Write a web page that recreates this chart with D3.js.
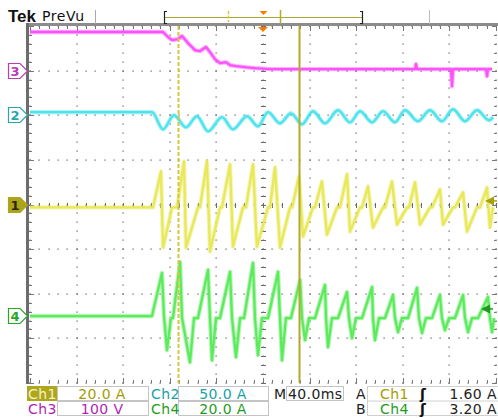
<!DOCTYPE html>
<html><head><meta charset="utf-8">
<script src="https://cdn.jsdelivr.net/npm/d3@7"></script>
<style>body{margin:0;background:#fff}svg{display:block}</style>
</head><body><svg id="c" width="498" height="418"></svg>
<script>
// ---------- DATA (time in ms, 40 ms/div, trigger at 0) ----------
const channelNames = ["Ch1","Ch2","Ch3","Ch4"];
const perDiv = [20, 50, 100, 20];          // A, A, V, A per division
const offsetDiv = [0, 2, 3, -2.5];         // ground marker position (div)
const perDivLabels = ["20.0 A","50.0 A","100 V","20.0 A"];
const timebaseLabel = "40.0ms";
const triggerLabels = [["A","Ch1","1.60 A"],["B","Ch4","3.20 A"]];
const triggerLevels = [1.6, 3.2];          // Ch1, Ch4 (A)
const cursorTimes = [-73, 31];             // ms

const ch3Time = [-200,-85.8,-81.5,-78.1,-73.0,-69.5,-64.4,-58.4,-54.1,-48.9,-45.5,-41.2,-36.9,-31.8,-28.3,-23.2,-15.5,-6.9,6.0,130.5,131.3,132.2,161.4,162.2,163.1,191.4,192.3,193.1,196.6];
const ch3Volts = [86.5,86.5,75.3,68.5,70.8,77.5,61.8,46.0,43.8,52.8,41.5,25.8,16.8,19.1,12.3,10.1,7.8,5.6,3.4,3.4,14.6,3.4,3.4,-34.9,3.4,3.4,-12.4,3.4,3.4];

const ch2Time = [-200,-95.3,-85.8,-76.4,-66.1,-56.7,-47.2,-35.2,-25.8,-13.7,-4.3,4.3,14.6,24.0,33.5,42.9,53.2,64.4,74.7,83.3,93.6,103.0,113.3,121.9,133.0,143.3,153.6,163.1,173.4,183.7,194.0,197.4];
const ch2Amps = [3.4,3.4,-15.7,0.0,-13.5,-1.1,-18.0,-2.2,-15.7,-1.1,-12.4,3.4,-9.0,2.2,-10.1,4.5,-9.0,5.6,-7.9,4.5,-7.9,4.5,-7.9,5.6,-6.7,5.6,-6.7,6.7,-6.7,5.6,-5.6,-2.2];

const ch1Time = [-200,-94.4,
  -87.6,-85.8,-78.1,
  -73.8,-67.8,-66.1,-55.8,
  -54.1,-48.1,-45.5,-36.9,
  -35.2,-28.3,-25.8,-17.2,
  -14.6,-8.6,-5.2,4.3,
  6.0,10.3,14.6,23.2,
  24.9,30.9,34.3,42.9,
  44.6,50.6,54.9,63.5,
  66.1,72.1,74.7,83.3,
  85.0,90.1,94.4,103.0,
  104.7,110.7,115.0,123.6,
  125.3,130.5,134.8,143.3,
  145.1,151.9,154.5,163.1,
  164.8,171.7,175.1,183.7,
  186.3,192.3,194.8,197.4];
const ch1Amps = [-1.3,-1.3,
  14.8,-19.3,-1.3,
  -1.3,19.3,-19.3,-1.3,
  -1.3,19.3,-21.1,-1.3,
  -1.3,18.0,-18.9,-1.3,
  -1.3,18.0,-18.9,-1.3,
  -1.3,16.6,-19.3,-1.3,
  -1.3,12.6,-14.4,-1.3,
  -1.3,10.3,-13.5,-1.3,
  -1.3,13.5,-12.1,-1.3,
  -1.3,8.1,-10.3,-1.3,
  -1.3,10.3,-9.0,-1.3,
  -1.3,9.9,-9.0,-1.3,
  -1.3,6.7,-9.0,-1.3,
  -1.3,5.4,-12.1,-1.3,
  -1.3,7.6,-10.3,-1.3];

const ch4Time = [-200,
  -95.3,-86.7,-85.0,-82.4,-79.0,
  -77.3,-71.2,-69.5,-62.7,-59.2,
  -55.8,-47.2,-45.5,-43.8,-40.3,
  -36.9,-28.3,-26.6,-23.2,-19.7,
  -16.3,-8.6,-6.9,-4.3,-0.9,
  4.3,12.9,14.6,16.3,19.7,
  24.0,31.8,33.5,36.1,39.5,
  44.6,53.2,54.1,55.8,59.2,
  64.4,72.1,73.8,76.4,79.8,
  85.0,93.6,94.4,96.1,99.6,
  104.7,111.6,113.3,115.9,119.3,
  124.5,132.2,133.9,136.5,139.9,
  145.1,151.9,153.6,156.2,159.7,
  164.8,171.7,173.4,176.0,179.4,
  184.6,193.1,194.8,196.6,198.3];
const ch4Amps = [0,
  0,19.3,0,-15.3,-0.9,
  -0.9,24.2,-0.9,-20.7,-0.9,
  -0.9,20.7,-0.9,-19.8,-0.9,
  -0.9,19.8,-0.9,-18.4,-0.9,
  -0.9,23.8,-0.9,-17.5,-0.9,
  -0.9,19.8,-0.9,-19.8,-0.9,
  -0.9,16.2,-0.9,-10.8,-0.9,
  -0.9,13.9,-0.9,-13.9,-0.9,
  -0.9,10.8,-0.9,-9.9,-0.9,
  -0.9,13.0,-0.9,-10.8,-0.9,
  -0.9,9.4,-0.9,-7.2,-0.9,
  -0.9,12.6,-0.9,-7.6,-0.9,
  -0.9,9.4,-0.9,-6.3,-0.9,
  -0.9,9.4,-0.9,-7.2,-0.9,
  -0.9,8.5,-0.9,-7.2,-0.9];

// ---------- LAYOUT ----------
const svg = d3.select("#c");
const X0 = 30, X1 = 496, Y0 = 26, Y1 = 383;
const x = d3.scaleLinear().domain([-200, 200]).range([X0, X1]);
const yDiv = d3.scaleLinear().domain([-4, 4]).range([Y1, Y0]);
const chColor = ["#e8e85a", "#4fe3ec", "#fb52fb", "#5deb5d"];
const chText = ["#a49c00", "#1a9fa6", "#b21fb2", "#1c9e1c"];
const chMarker = ["#aca41c", "#2aa6aa", "#b83cb8", "#2aa62a"];

svg.append("rect").attr("width", 498).attr("height", 418).attr("fill", "#fff");

// ---------- GRATICULE ----------
const grid = svg.append("g");
const minorT = d3.range(-200, 200.01, 8);
const minorD = d3.range(-20, 21).map(i => i / 5);
const majorT = d3.range(-200, 200.01, 40);
const majorD = d3.range(-4, 4.01, 1);
const dots = [];
majorD.forEach(d => minorT.forEach(t => dots.push([x(t), yDiv(d)])));
majorT.forEach(t => minorD.forEach(d => dots.push([x(t), yDiv(d)])));
grid.selectAll("rect.dot").data(dots).join("rect").attr("class", "dot")
  .attr("x", d => Math.round(d[0]) - 0.5).attr("y", d => Math.round(d[1]) - 0.5)
  .attr("width", 1.2).attr("height", 1.2).attr("fill", "#5a5a5a");
// center cross ticks
const yc = Math.round(yDiv(0)), xc = Math.round(x(0));
grid.selectAll("line.ct").data(minorT).join("line").attr("class", "ct")
  .attr("x1", t => Math.round(x(t)) + 0.5).attr("x2", t => Math.round(x(t)) + 0.5)
  .attr("y1", yc - 2).attr("y2", yc + 3).attr("stroke", "#6a6a6a").attr("stroke-width", 1);
grid.selectAll("line.cd").data(minorD).join("line").attr("class", "cd")
  .attr("y1", d => Math.round(yDiv(d)) + 0.5).attr("y2", d => Math.round(yDiv(d)) + 0.5)
  .attr("x1", xc - 2).attr("x2", xc + 3).attr("stroke", "#6a6a6a").attr("stroke-width", 1);
// edge ticks
const isMajT = t => Math.abs(t % 40) < 0.01;
const isMajD = d => Math.abs(d - Math.round(d)) < 0.01;
grid.selectAll("line.tt").data(minorT).join("line").attr("class", "tt")
  .attr("x1", t => Math.round(x(t)) + 0.5).attr("x2", t => Math.round(x(t)) + 0.5)
  .attr("y1", Y0).attr("y2", t => isMajT(t) ? Y0 + 5 : Y0 + 3).attr("stroke", "#777");
grid.selectAll("line.bt").data(minorT).join("line").attr("class", "bt")
  .attr("x1", t => Math.round(x(t)) + 0.5).attr("x2", t => Math.round(x(t)) + 0.5)
  .attr("y1", Y1).attr("y2", t => isMajT(t) ? Y1 - 5 : Y1 - 3).attr("stroke", "#777");
grid.selectAll("line.lt").data(minorD).join("line").attr("class", "lt")
  .attr("y1", d => Math.round(yDiv(d)) + 0.5).attr("y2", d => Math.round(yDiv(d)) + 0.5)
  .attr("x1", 29).attr("x2", d => isMajD(d) ? 34 : 32).attr("stroke", "#777");
grid.selectAll("line.rt").data(minorD).join("line").attr("class", "rt")
  .attr("y1", d => Math.round(yDiv(d)) + 0.5).attr("y2", d => Math.round(yDiv(d)) + 0.5)
  .attr("x1", X1 + 0.5).attr("x2", d => isMajD(d) ? X1 - 4 : X1 - 2).attr("stroke", "#777");
// borders
svg.append("rect").attr("x", 26).attr("y", 23).attr("width", 472).attr("height", 3).attr("fill", "#8c8c8c");
svg.append("rect").attr("x", 26).attr("y", 23).attr("width", 3).attr("height", Y1 - 23 + 1).attr("fill", "#6c6c6c");

// ---------- TRACES ----------
function series(ts, vs, ch) {
  return ts.map((t, i) => ({ t, v: vs[i] / perDiv[ch] + offsetDiv[ch] }));
}
const traces = [
  { ch: 2, data: series(ch3Time, ch3Volts, 2), curve: d3.curveLinear },
  { ch: 1, data: series(ch2Time, ch2Amps, 1), curve: d3.curveMonotoneX },
  { ch: 0, data: series(ch1Time, ch1Amps, 0), curve: d3.curveLinear },
  { ch: 3, data: series(ch4Time, ch4Amps, 3), curve: d3.curveLinear }
];
const tg = svg.append("g");
traces.forEach(tr => {
  const line = d3.line().x(d => x(d.t)).y(d => yDiv(d.v)).curve(tr.curve);
  tg.append("path").attr("d", line(tr.data)).attr("fill", "none")
    .attr("stroke", chColor[tr.ch]).attr("stroke-opacity", 0.45).attr("stroke-width", 4.4)
    .attr("stroke-linejoin", "round");
  tg.append("path").attr("d", line(tr.data)).attr("fill", "none")
    .attr("stroke", chColor[tr.ch]).attr("stroke-width", 2.3).attr("stroke-linejoin", "round");
});

// ---------- CURSORS ----------
svg.append("line").attr("x1", Math.round(x(cursorTimes[0])) + 0.5).attr("x2", Math.round(x(cursorTimes[0])) + 0.5)
  .attr("y1", Y0).attr("y2", Y1).attr("stroke", "#d6c63c").attr("stroke-width", 2).attr("stroke-dasharray", "4,2");
svg.append("line").attr("x1", Math.round(x(cursorTimes[1])) + 0.5).attr("x2", Math.round(x(cursorTimes[1])) + 0.5)
  .attr("y1", Y0).attr("y2", Y1).attr("stroke", "#b2aa2c").attr("stroke-width", 2);

// ---------- GROUND MARKERS ----------
const markerOrder = [2, 1, 0, 3];
markerOrder.forEach(ch => {
  const y = Math.round(yDiv(offsetDiv[ch]));
  const filled = ch === 0;
  svg.append("path").attr("d", `M8.5,${y - 7.5}H20L27.5,${y}L20,${y + 7.5}H8.5Z`)
    .attr("fill", filled ? chMarker[ch] : "#fff").attr("stroke", chMarker[ch]).attr("stroke-width", 1.2);
  svg.append("text").attr("x", 15).attr("y", y + 5).attr("text-anchor", "middle")
    .attr("font-family", "DejaVu Sans").attr("font-weight", "bold").attr("font-size", 13)
    .attr("fill", filled ? "#2a2800" : chMarker[ch]).text(String(ch + 1));
});

// ---------- TRIGGER LEVEL MARKERS (right) ----------
[[0, triggerLevels[0], "#a8a010", 494], [3, triggerLevels[1], "#1f9a1f", 490]].forEach(([ch, lvl, col, xr]) => {
  const y = yDiv(lvl / perDiv[ch] + offsetDiv[ch]);
  svg.append("path").attr("d", `M${xr - 9},${y}L${xr},${y - 4.5}L${xr},${y + 4.5}Z`).attr("fill", col);
  svg.append("line").attr("x1", xr - 4).attr("x2", xr + 3).attr("y1", y).attr("y2", y).attr("stroke", col).attr("stroke-width", 1.5);
});

// trigger position marker (orange)
svg.append("path").attr("d", `M${x(0) - 5},27L${x(0) + 5},27L${x(0)},32Z`).attr("fill", "#ff7a00");

// ---------- TOP BAR ----------
svg.append("text").attr("x", 8).attr("y", 22).attr("font-family", "Liberation Sans").attr("font-weight", "bold")
  .attr("font-size", 17).attr("fill", "#111").text("Tek");
svg.append("text").attr("x", 42).attr("y", 21).attr("font-family", "DejaVu Sans").attr("font-size", 14)
  .attr("letter-spacing", 0.6).attr("fill", "#111").text("PreVu");
svg.append("line").attr("x1", 95.5).attr("x2", 95.5).attr("y1", 10).attr("y2", 24).attr("stroke", "#aaa");
svg.append("line").attr("x1", 429.5).attr("x2", 429.5).attr("y1", 10).attr("y2", 24).attr("stroke", "#bbb");
// record bar
const rec = d3.scaleLinear().domain([-200, 200]).range([164, 363]);
svg.append("line").attr("x1", 164).attr("x2", 362).attr("y1", 17.5).attr("y2", 17.5).attr("stroke", "#aea632").attr("stroke-width", 1.2);
svg.append("path").attr("d", "M167,11.5H164.5V23.5H167").attr("fill", "none").attr("stroke", "#222").attr("stroke-width", 1.2);
svg.append("path").attr("d", "M360,11.5H362.5V23.5H360").attr("fill", "none").attr("stroke", "#222").attr("stroke-width", 1.2);
const recCursor0 = 228, recCursor1 = 280;
svg.append("line").attr("x1", recCursor0 + 0.5).attr("x2", recCursor0 + 0.5).attr("y1", 11).attr("y2", 22)
  .attr("stroke", "#d6c63c").attr("stroke-width", 1.5).attr("stroke-dasharray", "3,1.5");
svg.append("line").attr("x1", recCursor1 + 0.5).attr("x2", recCursor1 + 0.5).attr("y1", 10).attr("y2", 24)
  .attr("stroke", "#b2aa2c").attr("stroke-width", 1.5);
svg.append("path").attr("d", `M${rec(0) - 4},11L${rec(0) + 4},11L${rec(0)},15Z`).attr("fill", "#ff7a00");

// ---------- STATUS BAR ----------
const sb = svg.append("g").attr("font-family", "DejaVu Sans").attr("font-size", 14).attr("letter-spacing", 0.4);
const row = [{ y0: 386, base: 398.5 }, { y0: 401, base: 413.5 }];
[[57, 148], [178, 268]].forEach(([a, b]) => row.forEach(r =>
  sb.append("rect").attr("x", a + 0.5).attr("y", r.y0 + 0.5).attr("width", b - a).attr("height", 14)
    .attr("fill", "#fff").attr("stroke", "#c4c4c4")));
sb.append("rect").attr("x", 286.5).attr("y", 386.5).attr("width", 57).attr("height", 14).attr("fill", "#fff").attr("stroke", "#c4c4c4");
sb.append("rect").attr("x", 367.5).attr("y", 386.5).attr("width", 131).attr("height", 29).attr("fill", "none").attr("stroke", "#d0d0d0");
sb.append("line").attr("x1", 367).attr("x2", 498).attr("y1", 401).attr("y2", 401).attr("stroke", "#d0d0d0");
sb.append("rect").attr("x", 27).attr("y", 386).attr("width", 30).attr("height", 15).attr("fill", "#aea61c");
const labelPos = [[28, 0], [151, 0], [28, 1], [151, 1]];
[0, 1, 2, 3].forEach(ch => {
  const [lx, ri] = labelPos[ch];
  sb.append("text").attr("x", lx).attr("y", row[ri].base)
    .attr("fill", ch === 0 ? "#f6f2c4" : chText[ch]).text(channelNames[ch]);
  const cx = lx < 100 ? 102 : 223;
  sb.append("text").attr("x", cx).attr("y", row[ri].base).attr("text-anchor", "middle")
    .attr("fill", chText[ch]).text(perDivLabels[ch]);
});
sb.append("text").attr("x", 274).attr("y", row[0].base).attr("fill", "#222").text("M");
sb.append("text").attr("x", 288).attr("y", row[0].base).attr("fill", "#222").text(timebaseLabel);
triggerLabels.forEach((tl, i) => {
  sb.append("text").attr("x", 356).attr("y", row[i].base).attr("fill", "#222").text(tl[0]);
  sb.append("text").attr("x", 380).attr("y", row[i].base).attr("fill", i === 0 ? chText[0] : chText[3]).text(tl[1]);
  sb.append("text").attr("x", 423).attr("y", row[i].base).attr("text-anchor", "middle").attr("font-weight", "bold")
    .attr("fill", "#111").text("ʃ");
  sb.append("text").attr("x", 497).attr("y", row[i].base).attr("text-anchor", "end").attr("fill", "#222").text(tl[2]);
});
</script>
</body></html>
